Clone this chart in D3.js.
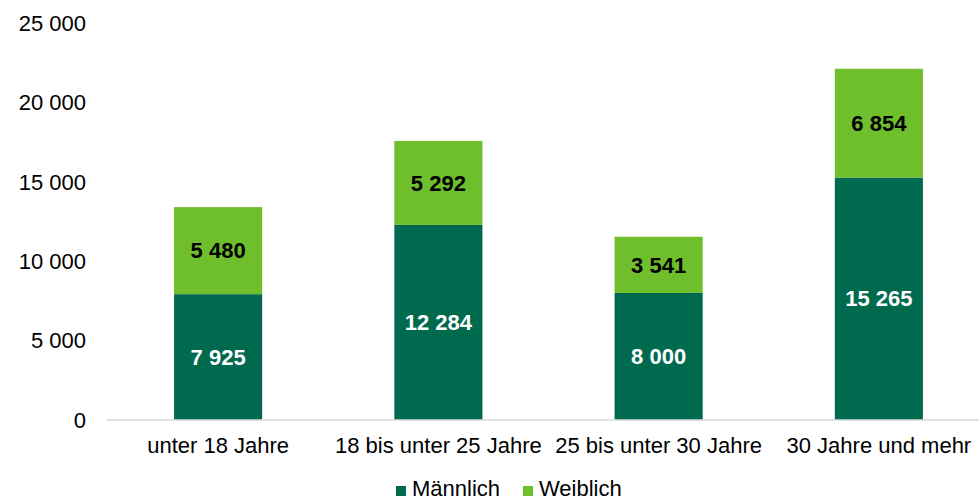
<!DOCTYPE html>
<html><head><meta charset="utf-8">
<script src="https://cdn.jsdelivr.net/npm/d3@7"></script>
<style>body{margin:0;background:#fff}svg{display:block}text{font-family:"Liberation Sans",Arial,sans-serif}</style>
</head><body>
<svg id="c" width="979" height="501"></svg>
<script>
const categories = ["unter 18 Jahre", "18 bis unter 25 Jahre", "25 bis unter 30 Jahre", "30 Jahre und mehr"];
const maennlich = [7925, 12284, 8000, 15265];
const weiblich = [5480, 5292, 3541, 6854];
const seriesNames = ["Männlich", "Weiblich"];
const yTicks = [0, 5000, 10000, 15000, 20000, 25000];

const colors = ["#006a4f", "#6fbe2c"];
const svg = d3.select("#c");
const fmt = v => d3.format(",")(v).replace(/,/g, " ");

const y = d3.scaleLinear().domain([0, 25000]).range([420, 23]);
const x = d3.scaleBand().domain(categories).range([108, 989]).paddingInner(0.6).paddingOuter(0.3);

const data = categories.map((c, i) => ({cat: c, Männlich: maennlich[i], Weiblich: weiblich[i]}));
const stack = d3.stack().keys(seriesNames)(data);

// y labels
svg.append("g").selectAll("text").data(yTicks).join("text")
  .attr("x", 86).attr("y", d => y(d)).attr("dy", "0.35em")
  .attr("text-anchor", "end").attr("font-size", 22).attr("fill", "#000")
  .text(fmt);

// bars
stack.forEach((s, si) => {
  const g = svg.append("g");
  g.selectAll("rect").data(s).join("rect")
    .attr("x", d => x(d.data.cat)).attr("width", x.bandwidth())
    .attr("y", d => y(d[1])).attr("height", d => y(d[0]) - y(d[1]))
    .attr("fill", colors[si]);
  g.selectAll("text").data(s).join("text")
    .attr("x", d => x(d.data.cat) + x.bandwidth() / 2)
    .attr("y", d => (y(d[0]) + y(d[1])) / 2).attr("dy", "0.35em")
    .attr("text-anchor", "middle").attr("font-size", 22).attr("font-weight", "bold")
    .attr("fill", si === 0 ? "#fff" : "#000")
    .text(d => fmt(d[1] - d[0]));
});

// x axis line
svg.append("line").attr("x1", 107).attr("x2", 979).attr("y1", 420).attr("y2", 420)
  .attr("stroke", "#d9d9d9").attr("stroke-width", 1.5);

svg.append("g").selectAll("text").data(categories).join("text")
  .attr("x", d => x(d) + x.bandwidth() / 2).attr("y", 453)
  .attr("text-anchor", "middle").attr("font-size", 22).attr("fill", "#000")
  .text(d => d);

// legend
const leg = [{x: 396}, {x: 523}];
seriesNames.forEach((n, i) => {
  svg.append("rect").attr("x", leg[i].x).attr("y", 486).attr("width", 10).attr("height", 10).attr("fill", colors[i]);
  svg.append("text").attr("x", leg[i].x + 16).attr("y", 496).attr("font-size", 22).attr("fill", "#000").text(n);
});
</script>
</body></html>
